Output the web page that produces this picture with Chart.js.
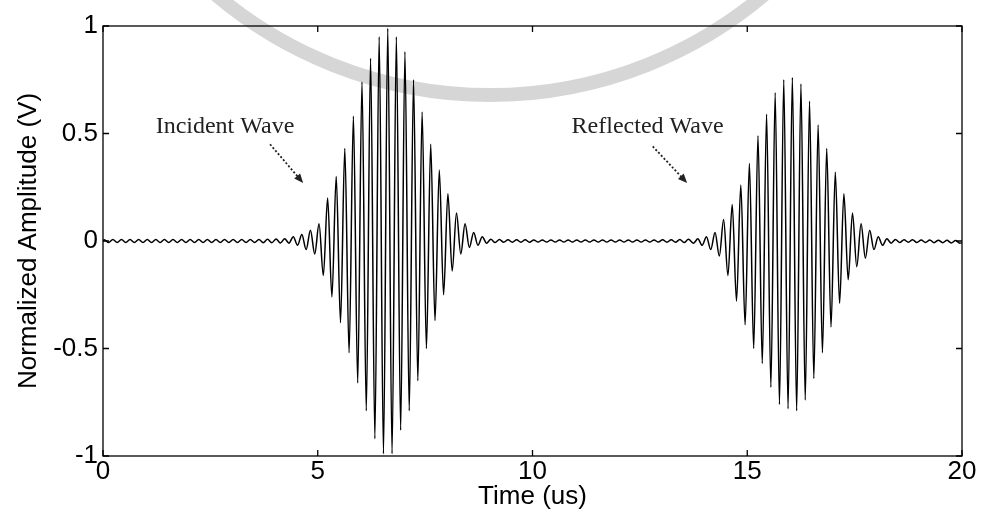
<!DOCTYPE html>
<html>
<head>
<meta charset="utf-8">
<script src="https://cdn.jsdelivr.net/npm/chart.js@4/dist/chart.umd.min.js"></script>
<style>
  html, body { margin: 0; padding: 0; background: #fff; }
  canvas { display: block; }
</style>
</head>
<body>
<canvas id="chart" width="982" height="521"></canvas>
<script>
// Axis ticks
const xTicks = [0, 5, 10, 15, 20];
const yTicks = [-1, -0.5, 0, 0.5, 1];

// Quiet baseline before the incident burst (us, V)
const quiet1Times = [0, 0.03, 0.13, 0.23, 0.33, 0.43, 0.53, 0.63, 0.73, 0.83, 0.93,
  1.03, 1.13, 1.23, 1.33, 1.43, 1.53, 1.63, 1.73, 1.83, 1.93,
  2.03, 2.13, 2.23, 2.33, 2.43, 2.53, 2.63, 2.73, 2.83, 2.93,
  3.03, 3.13, 3.23, 3.33, 3.43, 3.53, 3.63, 3.73, 3.83, 3.93, 4.03, 4.13];
const quiet1Amps = [0, 0.006, -0.007, 0.007, -0.007, 0.007, -0.007, 0.007, -0.007, 0.007, -0.007,
  0.007, -0.007, 0.007, -0.007, 0.007, -0.007, 0.007, -0.007, 0.007, -0.007,
  0.007, -0.007, 0.007, -0.007, 0.007, -0.007, 0.007, -0.007, 0.007, -0.007,
  0.007, -0.007, 0.007, -0.007, 0.007, -0.007, 0.007, -0.008, 0.008, -0.008, 0.009, -0.009];

// Incident wave extrema
const incidentTimes = [4.23, 4.33, 4.43, 4.53, 4.63, 4.73, 4.83, 4.93, 5.03, 5.13,
  5.23, 5.33, 5.43, 5.53, 5.63, 5.73, 5.83, 5.93, 6.03, 6.13,
  6.23, 6.33, 6.43, 6.53, 6.63, 6.73, 6.83, 6.93, 7.03, 7.13,
  7.23, 7.33, 7.43, 7.53, 7.63, 7.73, 7.83, 7.93, 8.03, 8.13,
  8.23, 8.33, 8.43, 8.53, 8.63, 8.73, 8.83, 8.93];
const incidentAmps = [0.01, -0.01, 0.02, -0.02, 0.03, -0.04, 0.05, -0.06, 0.08, -0.16,
  0.20, -0.26, 0.30, -0.38, 0.43, -0.52, 0.58, -0.66, 0.74, -0.79,
  0.85, -0.92, 0.95, -0.99, 0.99, -0.99, 0.95, -0.88, 0.88, -0.79,
  0.75, -0.65, 0.60, -0.50, 0.45, -0.37, 0.33, -0.25, 0.22, -0.14,
  0.13, -0.06, 0.08, -0.03, 0.04, -0.02, 0.02, -0.01];

// Quiet baseline between bursts
const quiet2Times = [9.03, 9.13, 9.23, 9.33, 9.43, 9.53, 9.63, 9.73, 9.83, 9.93,
  10.03, 10.13, 10.23, 10.33, 10.43, 10.53, 10.63, 10.73, 10.83, 10.93,
  11.03, 11.13, 11.23, 11.33, 11.43, 11.53, 11.63, 11.73, 11.83, 11.93,
  12.03, 12.13, 12.23, 12.33, 12.43, 12.53, 12.63, 12.73, 12.83, 12.93,
  13.03, 13.13, 13.23, 13.33, 13.43, 13.53, 13.63];
const quiet2Amps = [0.008, -0.007, 0.007, -0.006, 0.006, -0.006, 0.006, -0.006, 0.006, -0.006,
  0.005, -0.005, 0.005, -0.005, 0.005, -0.005, 0.005, -0.005, 0.005, -0.005,
  0.005, -0.005, 0.005, -0.005, 0.005, -0.005, 0.005, -0.005, 0.005, -0.005,
  0.005, -0.005, 0.005, -0.005, 0.005, -0.005, 0.005, -0.005, 0.005, -0.005,
  0.006, -0.006, 0.006, -0.006, 0.007, -0.007, 0.008];

// Reflected wave extrema
const reflectedTimes = [13.75, 13.85, 13.95, 14.05, 14.15, 14.25, 14.35, 14.45, 14.55, 14.65,
  14.75, 14.85, 14.95, 15.05, 15.15, 15.25, 15.35, 15.45, 15.55, 15.65,
  15.75, 15.85, 15.95, 16.05, 16.15, 16.25, 16.35, 16.45, 16.55, 16.65,
  16.75, 16.85, 16.95, 17.05, 17.15, 17.25, 17.35, 17.45, 17.55, 17.65,
  17.75, 17.85, 17.95, 18.05, 18.15, 18.25, 18.35];
const reflectedAmps = [-0.01, 0.01, -0.02, 0.02, -0.04, 0.04, -0.07, 0.10, -0.16, 0.17,
  -0.28, 0.26, -0.39, 0.36, -0.50, 0.49, -0.57, 0.59, -0.68, 0.69,
  -0.76, 0.75, -0.78, 0.76, -0.79, 0.73, -0.74, 0.65, -0.64, 0.54,
  -0.52, 0.43, -0.40, 0.32, -0.29, 0.22, -0.18, 0.13, -0.12, 0.08,
  -0.08, 0.05, -0.04, 0.02, -0.02, 0.01, -0.01];

// Quiet tail
const quiet3Times = [18.45, 18.55, 18.65, 18.75, 18.85, 18.95, 19.05, 19.15, 19.25, 19.35,
  19.45, 19.55, 19.65, 19.75, 19.85, 19.95, 20];
const quiet3Amps = [0.007, -0.007, 0.006, -0.006, 0.006, -0.007, 0.005, -0.007, 0.005, -0.008,
  0.004, -0.008, 0.003, -0.009, 0.002, -0.01, -0.008];

// Annotations (data coordinates)
const labelTexts = ["Incident Wave", "Reflected Wave"];
const labelPos = [[2.84, 0.53], [12.68, 0.53]];
const arrowFrom = [[3.89, 0.45], [12.80, 0.44]];
const arrowTo = [[4.66, 0.27], [13.60, 0.27]];

function toPoints(times, amps) {
  return times.map((t, i) => ({ x: t, y: amps[i] }));
}

const trace = [].concat(
  toPoints(quiet1Times, quiet1Amps),
  toPoints(incidentTimes, incidentAmps),
  toPoints(quiet2Times, quiet2Amps),
  toPoints(reflectedTimes, reflectedAmps),
  toPoints(quiet3Times, quiet3Amps)
);

const sansFont = { family: "'Liberation Sans', Arial, sans-serif", size: 26 };

// faint watermark ring, box, inward ticks and the arrow labels
const decorPlugin = {
  id: "decor",
  beforeDraw(chart) {
    const ctx = chart.ctx;
    ctx.save();
    ctx.strokeStyle = "rgba(0,0,0,0.16)";
    ctx.lineWidth = 14;
    ctx.beginPath();
    ctx.arc(490, -330, 425, 0, Math.PI);
    ctx.stroke();
    ctx.restore();
  },
  afterDraw(chart) {
    const { ctx, chartArea: a, scales } = chart;
    const xs = scales.x, ys = scales.y;
    ctx.save();
    ctx.strokeStyle = "#000";
    ctx.lineWidth = 1.3;
    ctx.strokeRect(a.left, a.top, a.right - a.left, a.bottom - a.top);

    ctx.beginPath();
    xTicks.forEach((v) => {
      const px = xs.getPixelForValue(v);
      ctx.moveTo(px, a.bottom); ctx.lineTo(px, a.bottom - 6);
      ctx.moveTo(px, a.top); ctx.lineTo(px, a.top + 6);
    });
    yTicks.forEach((v) => {
      const py = ys.getPixelForValue(v);
      ctx.moveTo(a.left, py); ctx.lineTo(a.left + 6, py);
      ctx.moveTo(a.right, py); ctx.lineTo(a.right - 6, py);
    });
    ctx.stroke();

    ctx.fillStyle = "#222";
    ctx.font = "24px 'Liberation Serif', 'Times New Roman', serif";
    ctx.textAlign = "center";
    ctx.textBaseline = "middle";
    labelTexts.forEach((txt, i) => {
      ctx.fillText(txt, xs.getPixelForValue(labelPos[i][0]), ys.getPixelForValue(labelPos[i][1]));

      const x1 = xs.getPixelForValue(arrowFrom[i][0]), y1 = ys.getPixelForValue(arrowFrom[i][1]);
      const x2 = xs.getPixelForValue(arrowTo[i][0]), y2 = ys.getPixelForValue(arrowTo[i][1]);
      const ang = Math.atan2(y2 - y1, x2 - x1);
      ctx.strokeStyle = "#222";
      ctx.lineWidth = 1.8;
      ctx.setLineDash([2, 2]);
      ctx.beginPath();
      ctx.moveTo(x1, y1);
      ctx.lineTo(x2 - 6 * Math.cos(ang), y2 - 6 * Math.sin(ang));
      ctx.stroke();
      ctx.setLineDash([]);
      ctx.beginPath();
      ctx.moveTo(x2, y2);
      ctx.lineTo(x2 - 10 * Math.cos(ang - 0.4), y2 - 10 * Math.sin(ang - 0.4));
      ctx.lineTo(x2 - 10 * Math.cos(ang + 0.4), y2 - 10 * Math.sin(ang + 0.4));
      ctx.closePath();
      ctx.fill();
    });
    ctx.restore();
  }
};

new Chart(document.getElementById("chart"), {
  type: "line",
  data: {
    datasets: [{
      data: trace,
      borderColor: "#000",
      borderWidth: 1.5,
      pointRadius: 0,
      fill: false,
      cubicInterpolationMode: "monotone"
    }]
  },
  options: {
    responsive: false,
    animation: false,
    layout: { padding: { top: 26, right: 20, left: 0, bottom: 0 } },
    plugins: { legend: { display: false }, tooltip: { enabled: false } },
    scales: {
      x: {
        type: "linear",
        min: 0,
        max: 20,
        afterBuildTicks: (s) => { s.ticks = xTicks.map((v) => ({ value: v })); },
        afterFit: (s) => { s.height = 65; },
        ticks: { color: "#000", font: sansFont, padding: 0, maxRotation: 0 },
        grid: { display: false, drawTicks: false },
        border: { display: false },
        title: { display: true, text: "Time (us)", color: "#000", font: sansFont, padding: { top: 0, bottom: 9 } }
      },
      y: {
        min: -1,
        max: 1,
        afterBuildTicks: (s) => { s.ticks = yTicks.map((v) => ({ value: v })); },
        afterFit: (s) => { s.width = 103; },
        ticks: { color: "#000", font: sansFont, padding: 5, callback: (v) => String(v) },
        grid: { display: false, drawTicks: false },
        border: { display: false },
        title: { display: true, text: "Normalized Amplitude (V)", color: "#000", font: sansFont, padding: { top: 13, bottom: 0 } }
      }
    }
  },
  plugins: [decorPlugin]
});
</script>
</body>
</html>
